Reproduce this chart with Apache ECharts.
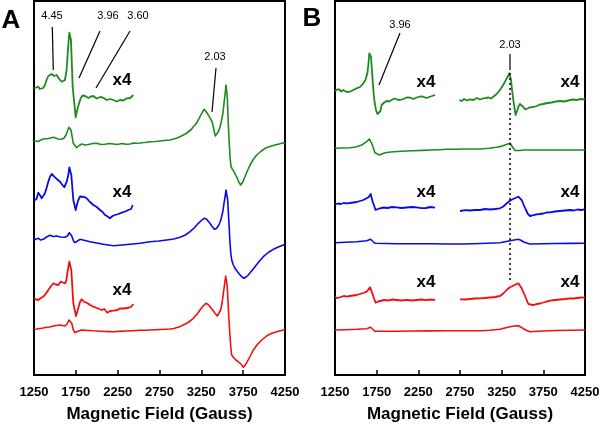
<!DOCTYPE html>
<html><head><meta charset="utf-8">
<script src="https://cdn.jsdelivr.net/npm/echarts@6/dist/echarts.min.js"></script>
<style>html,body{margin:0;padding:0;background:#fff}#c{width:600px;height:425px}</style>
</head><body><div id="c"></div>
<script>
// Field (Gauss) vs signal (arbitrary offset units)
const xTicks = [1250, 1750, 2250, 2750, 3250, 3750, 4250];
const A_green_x4 = [[1250,286.7],[1275,287.5],[1301,288.3],[1320,286],[1342,285],[1360,287],[1381,290],[1400,295],[1421,299],[1440,300.5],[1462,301],[1490,299],[1521,300],[1550,296],[1581,293.3],[1600,294],[1620,295],[1640,305],[1653,322],[1672,342.3],[1692,335],[1712,288.3],[1748,257.7],[1772,267],[1808,276.7],[1830,279.5],[1860,279],[1880,277.5],[1900,277],[1930,278.5],[1959,279],[1980,277],[2000,276.5],[2020,278.5],[2040,278],[2060,276],[2078,277.3],[2100,276.5],[2120,275],[2140,276.5],[2160,276],[2180,274],[2198,275],[2220,274.5],[2240,273.5],[2260,275.5],[2278,275],[2300,273.5],[2320,274.5],[2340,276],[2358,276.7],[2380,275.5],[2400,277],[2420,278.5],[2437,280]];
const A_green = [[1250,234.3],[1300,233.5],[1330,235],[1361,236],[1420,236.5],[1481,237.7],[1540,236],[1581,235.7],[1610,237],[1632,240],[1668,247.7],[1692,245],[1720,231.7],[1760,227.3],[1790,229.5],[1820,231],[1860,230],[1900,230.5],[1950,231.5],[1999,231.7],[2050,230.5],[2100,230.8],[2150,231.5],[2198,231],[2250,230.5],[2300,231.5],[2350,230.8],[2400,231],[2440,232],[2478,231.7],[2520,232],[2560,232.5],[2600,232.8],[2636,233.3],[2700,233.5],[2750,234],[2810,234.5],[2875,235],[2920,236],[2960,237],[3000,238.5],[3034,240],[3070,241.5],[3100,243.5],[3130,245.5],[3154,248.3],[3180,250.5],[3200,253],[3220,256],[3234,258.3],[3260,262.5],[3285,265.7],[3305,264],[3321,261.7],[3345,258.3],[3366,256.7],[3380,253],[3393,248.3],[3405,243],[3417,239],[3435,240],[3453,243.3],[3475,248.5],[3493,255],[3508,262],[3521,271.7],[3535,282],[3545,290],[3560,278.3],[3572,252],[3584,231.7],[3595,216],[3605,208.3],[3620,206],[3640,203.3],[3660,200],[3680,196.7],[3700,192.5],[3721,190],[3745,193],[3772,198.3],[3800,204],[3832,210],[3870,215.5],[3912,220],[3960,223.5],[4011,226.7],[4070,228.5],[4130,230],[4180,231],[4230,232.3],[4250,232]];
const A_blue_x4 = [[1250,174.3],[1280,176],[1301,182.3],[1320,180],[1342,176.7],[1362,178],[1381,181.7],[1400,187],[1421,193.3],[1440,198],[1462,201],[1480,199.5],[1501,197.7],[1530,195.5],[1561,193.3],[1590,190],[1612,187.7],[1630,189],[1641,193.3],[1660,200],[1672,207.7],[1696,200],[1720,175],[1748,165],[1765,171],[1780,175],[1800,178.5],[1820,180],[1850,178],[1880,176.7],[1900,175],[1920,173],[1940,171.5],[1959,170],[1980,169],[2000,168],[2020,166.5],[2039,165],[2055,164],[2070,163],[2085,161],[2099,160],[2115,159.5],[2130,158.5],[2145,157.5],[2158,156.7],[2175,158.5],[2190,159],[2205,158.5],[2218,160],[2240,161.5],[2260,161],[2280,162.5],[2298,162.3],[2320,163],[2340,163.5],[2360,165],[2377,165],[2395,164],[2410,166],[2430,170]];
const A_blue = [[1250,135],[1275,136],[1301,136.7],[1330,135],[1361,135.7],[1400,138],[1441,139.7],[1480,138.5],[1521,139],[1570,138],[1620,137.7],[1650,139],[1672,142.3],[1701,139],[1720,134.5],[1740,132.3],[1770,134],[1800,135.7],[1860,134.5],[1919,133.3],[2000,132],[2078,130.7],[2140,130],[2198,129.3],[2300,130],[2397,130.7],[2460,131.2],[2517,131.7],[2580,132.5],[2636,133.3],[2740,134],[2836,135],[2920,136],[2995,137.7],[3060,140],[3115,143.3],[3170,147.5],[3214,151.7],[3250,154.5],[3282,156.7],[3310,156],[3333,154.3],[3355,151.5],[3374,149],[3390,147],[3405,145.7],[3430,146.5],[3453,149],[3475,153],[3493,158.3],[3508,164],[3521,171.7],[3535,179],[3545,185],[3565,175],[3580,152],[3593,131.7],[3603,121],[3613,115],[3630,110.5],[3652,106.7],[3680,103.5],[3704,101],[3730,98.5],[3760,96.7],[3785,98],[3811,100],[3850,104],[3891,108.3],[3940,113.5],[3991,118.3],[4050,122.5],[4110,125.7],[4170,128],[4230,130],[4250,130.7]];
const A_red_x4 = [[1250,76.7],[1275,75.5],[1301,75],[1330,77],[1361,78.3],[1390,81],[1421,85],[1450,88.5],[1481,91.7],[1510,90.5],[1540,90],[1555,92],[1569,93.3],[1595,92.5],[1620,91.7],[1635,94],[1648,101.7],[1672,113.3],[1696,105],[1720,71.7],[1752,59],[1770,64],[1784,68.3],[1800,73],[1820,75.7],[1835,74],[1850,73],[1865,74],[1880,72.3],[1900,71],[1920,70],[1940,69.5],[1959,68.3],[1980,67.5],[2000,67],[2030,66],[2059,65],[2075,64.5],[2090,66],[2110,64],[2126,62.3],[2145,63.5],[2160,64],[2180,65.5],[2198,64.3],[2220,65.5],[2250,65],[2275,66.5],[2298,65.7],[2320,66.5],[2340,66],[2365,67],[2390,67.5],[2415,68.5],[2437,71]];
const A_red = [[1250,45.7],[1285,46],[1320,46.5],[1360,47],[1402,47.7],[1440,48],[1480,49],[1520,49.5],[1561,50],[1590,49.5],[1620,49],[1645,51],[1668,55],[1701,51.7],[1720,45],[1740,42.3],[1780,44],[1820,45],[1860,44.8],[1900,44.5],[1950,44.2],[1999,44],[2050,43.8],[2100,43.5],[2150,43.4],[2198,43.3],[2270,43.6],[2350,44],[2430,44.3],[2517,44.7],[2580,44.8],[2636,45],[2700,45.3],[2760,45.5],[2820,45.8],[2875,46],[2920,46.5],[2960,47.5],[3000,48.6],[3034,50],[3070,51.5],[3100,53],[3130,55],[3154,56.7],[3200,61],[3234,65],[3270,69],[3306,71.7],[3330,70.5],[3354,68.3],[3385,65],[3413,61.7],[3441,59],[3462,61],[3481,65],[3498,72],[3513,81.7],[3528,91],[3541,99],[3560,88.3],[3577,60],[3593,38.3],[3603,27],[3613,20],[3640,17],[3664,15],[3690,13.5],[3712,12.3],[3735,10],[3752,7.7],[3775,10],[3799,13.3],[3835,19],[3871,25],[3920,30.5],[3972,35],[4030,39],[4091,41.7],[4160,43.5],[4230,45],[4250,45]];
const B_green_x4_lo = [[1250,284],[1275,285.5],[1300,285.5],[1325,283.5],[1350,285],[1370,284],[1390,283],[1410,284.5],[1430,283.3],[1450,285],[1470,285],[1490,287],[1510,286.7],[1530,287.5],[1550,288],[1570,289.5],[1590,291.7],[1615,295],[1638,301.7],[1650,310],[1662,321.7],[1682,318.3],[1695,303],[1710,285],[1725,273],[1742,265],[1760,261],[1778,259],[1795,264],[1810,270],[1840,272.5],[1870,274],[1900,273.5],[1930,275],[1960,276.5],[1990,275.7],[2030,275],[2070,276],[2110,277.5],[2150,277.3],[2190,276],[2230,277.5],[2270,278.5],[2310,278.3],[2345,277],[2380,278],[2415,279],[2450,280]];
const B_green_x4_hi = [[2742,275],[2770,274],[2800,276],[2835,274.5],[2870,275.7],[2910,275],[2950,277],[2990,275.5],[3030,276.7],[3060,277],[3090,277.5],[3120,276.5],[3150,278.3],[3170,279],[3190,281],[3210,282.5],[3230,285],[3260,289],[3290,293.3],[3320,298],[3342,301.7],[3362,295],[3375,285],[3390,275],[3405,266],[3418,260],[3435,264],[3450,268.3],[3470,271],[3490,271.7],[3510,268],[3530,265.7],[3560,266.5],[3590,267.7],[3630,268],[3670,269],[3710,270.5],[3750,271],[3800,272],[3850,272.5],[3900,273.5],[3950,274],[4000,273.5],[4050,274.5],[4100,275.5],[4150,275],[4200,276],[4250,275.7]];
const B_green = [[1250,226.7],[1340,227],[1430,227.3],[1500,228],[1570,230],[1630,233.3],[1662,236],[1690,231.7],[1730,222.3],[1782,220],[1850,222.3],[1920,223],[2000,223.5],[2100,224],[2190,224.3],[2300,224.6],[2400,225],[2500,225.3],[2590,225.7],[2700,225.8],[2800,226],[2900,226],[2990,226],[3100,226.8],[3190,227.7],[3240,228.6],[3290,230],[3350,231.7],[3382,227.7],[3410,224.5],[3430,223.3],[3470,224.5],[3510,225],[3650,225],[3790,225],[4000,225],[4250,225]];
const B_blue_x4_lo = [[1250,170.7],[1285,171.5],[1320,171],[1355,172],[1390,171.7],[1430,172],[1470,172.5],[1510,173],[1550,174],[1590,175],[1630,176.7],[1655,178],[1678,181],[1702,173.3],[1738,165],[1765,166],[1790,166.7],[1835,167.5],[1880,167],[1935,168],[1990,167.7],[2050,167],[2110,167.5],[2170,168],[2230,167.7],[2285,166.8],[2340,167],[2395,168],[2450,167.3]];
const B_blue_x4_hi = [[2750,164],[2810,164.8],[2870,164.5],[2930,165],[2990,165],[3050,166],[3110,165.5],[3170,166],[3230,166.7],[3270,168.5],[3310,171.7],[3345,174],[3382,175.7],[3415,177],[3450,178.3],[3490,175],[3515,170],[3542,165],[3565,161],[3590,159],[3630,159.8],[3670,160.7],[3710,161],[3750,161.5],[3790,162.5],[3830,162.7],[3890,163.5],[3950,164],[4010,164.5],[4070,165],[4115,164.5],[4160,165.5],[4200,165],[4250,165.7]];
const B_blue = [[1250,132.3],[1380,132.8],[1510,133.3],[1570,133.8],[1630,134.3],[1678,135.7],[1705,133.5],[1730,131.7],[1860,131.5],[1990,131.3],[2200,131.3],[2400,131.2],[2600,131],[2790,131],[3000,131.5],[3230,132.3],[3290,133.3],[3350,134.3],[3400,135],[3450,135.7],[3480,134.8],[3510,133.3],[3550,132],[3590,131],[3750,131.2],[3900,131.5],[4080,131.6],[4250,131.7]];
const B_red_x4_lo = [[1250,77.7],[1285,77],[1320,78],[1355,79],[1390,78.3],[1430,79],[1470,79.5],[1510,80],[1550,81],[1590,82],[1630,83.3],[1650,85],[1670,87.7],[1698,81.7],[1720,76],[1738,72.3],[1765,73.5],[1790,74],[1840,75],[1890,74.5],[1940,75.5],[1990,75],[2050,74.5],[2110,75.2],[2170,74.5],[2230,75],[2285,75.5],[2340,74.8],[2395,75.5],[2450,75]];
const B_red_x4_hi = [[2750,75.7],[2810,75.5],[2870,76],[2930,76.5],[2990,76.7],[3050,77],[3110,77.5],[3170,78],[3230,79],[3270,81.5],[3310,85],[3345,87.5],[3382,89],[3415,90.5],[3450,91.7],[3490,86.7],[3520,81],[3550,75],[3570,71],[3590,69],[3630,69.8],[3670,71],[3710,71.5],[3750,72.5],[3790,73.5],[3830,74.3],[3890,75],[3950,75.5],[4010,76],[4070,76.7],[4115,76.5],[4160,77],[4200,77.5],[4250,77.3]];
const B_red = [[1250,45],[1380,45.3],[1510,45.7],[1570,46],[1630,46.3],[1678,47.7],[1705,45.5],[1730,43.7],[1960,43.8],[2190,44],[2400,44.1],[2600,44.2],[2800,44.2],[2990,44.3],[3110,44.8],[3230,45.7],[3290,47],[3350,48.3],[3400,49],[3450,49.3],[3480,48],[3510,46.3],[3550,44.5],[3590,43.3],[3750,44],[3900,44.5],[4080,44.8],[4250,45]];
const dotField = 3350;
const dotRange = [302, 93];

const GREEN = '#1f8a1f', BLUE = '#0a0ae6', RED = '#f01010';
const chart = echarts.init(document.getElementById('c'), null, {renderer:'canvas'});
function ln(d, color, gi, w, extra) {
  return Object.assign({type:'line', xAxisIndex:gi, yAxisIndex:gi, data:d, showSymbol:false, symbol:'none',
    lineStyle:{color:color, width:w, join:'round'}, animation:false, silent:true}, extra||{});
}
function xa(gi) {
  return {gridIndex:gi, type:'value', min:xTicks[0], max:xTicks[xTicks.length-1], interval:500,
    axisLine:{show:true, onZero:false, lineStyle:{color:'#000', width:2}},
    axisTick:{show:true, inside:true, length:5, lineStyle:{color:'#000', width:1.5}},
    splitLine:{show:false},
    axisLabel:{color:'#000', fontFamily:'Liberation Sans', fontWeight:'bold', fontSize:13, margin:11,
      formatter: v => String(Math.round(v))},
    name:'Magnetic Field (Gauss)', nameLocation:'middle', nameGap:31,
    nameTextStyle:{color:'#000', fontFamily:'Liberation Sans', fontWeight:'bold', fontSize:17}};
}
function ya(gi) { return {gridIndex:gi, type:'value', min:0, max:374, show:false}; }
const T = (x,y,t,size,weight,align) => ({type:'text', x:x, y:y, style:{text:t, fill:'#000', font:(weight||'normal')+' '+size+'px "Liberation Sans"', textAlign:align||'center', textVerticalAlign:'middle'}});
const L = (x1,y1,x2,y2) => ({type:'line', shape:{x1:x1,y1:y1,x2:x2,y2:y2}, style:{stroke:'#000', lineWidth:1.2}});
chart.setOption({
  backgroundColor:'#fff',
  grid:[
    {left:34, top:1, width:251, height:374, show:true, borderColor:'#000', borderWidth:2, containLabel:false, outerBoundsMode:'none'},
    {left:335, top:1, width:250, height:374, show:true, borderColor:'#000', borderWidth:2, containLabel:false, outerBoundsMode:'none'}
  ],
  xAxis:[xa(0), xa(1)],
  yAxis:[ya(0), ya(1)],
  series:[
    ln(A_green_x4, GREEN, 0, 1.8), ln(A_green, GREEN, 0, 1.6),
    ln(A_blue_x4, BLUE, 0, 1.8), ln(A_blue, BLUE, 0, 1.6),
    ln(A_red_x4, RED, 0, 1.8), ln(A_red, RED, 0, 1.6),
    ln(B_green_x4_lo, GREEN, 1, 1.8),
    ln(B_green_x4_hi, GREEN, 1, 1.8, {markLine:{silent:true, symbol:'none', animation:false, label:{show:false},
      lineStyle:{color:'#000', type:[2,3], width:1.5},
      data:[[{coord:[dotField, dotRange[0]]},{coord:[dotField, dotRange[1]]}]]}}),
    ln(B_green, GREEN, 1, 1.6),
    ln(B_blue_x4_lo, BLUE, 1, 1.8), ln(B_blue_x4_hi, BLUE, 1, 1.8), ln(B_blue, BLUE, 1, 1.6),
    ln(B_red_x4_lo, RED, 1, 1.8), ln(B_red_x4_hi, RED, 1, 1.8), ln(B_red, RED, 1, 1.6)
  ],
  graphic:[
    T(11,21,'A',26,'bold'), T(312,19,'B',26,'bold'),
    T(52,16,'4.45',11), L(52.3,27,53.3,70),
    T(108,16,'3.96',11), L(100,31,79,78),
    T(138,16,'3.60',11), L(130,31,96,88),
    T(215,57,'2.03',11), L(216,68,212,112),
    T(122,80,'x4',17,'bold'), T(122,192,'x4',17,'bold'), T(122,290,'x4',17,'bold'),
    T(400,25,'3.96',11), L(400,33,379,85),
    T(510,45,'2.03',11), L(510,54,510,70),
    T(426,82,'x4',17,'bold'), T(570,82,'x4',17,'bold'),
    T(426,192,'x4',17,'bold'), T(570,192,'x4',17,'bold'),
    T(426,282,'x4',17,'bold'), T(570,282,'x4',17,'bold')
  ]
});
</script></body></html>
